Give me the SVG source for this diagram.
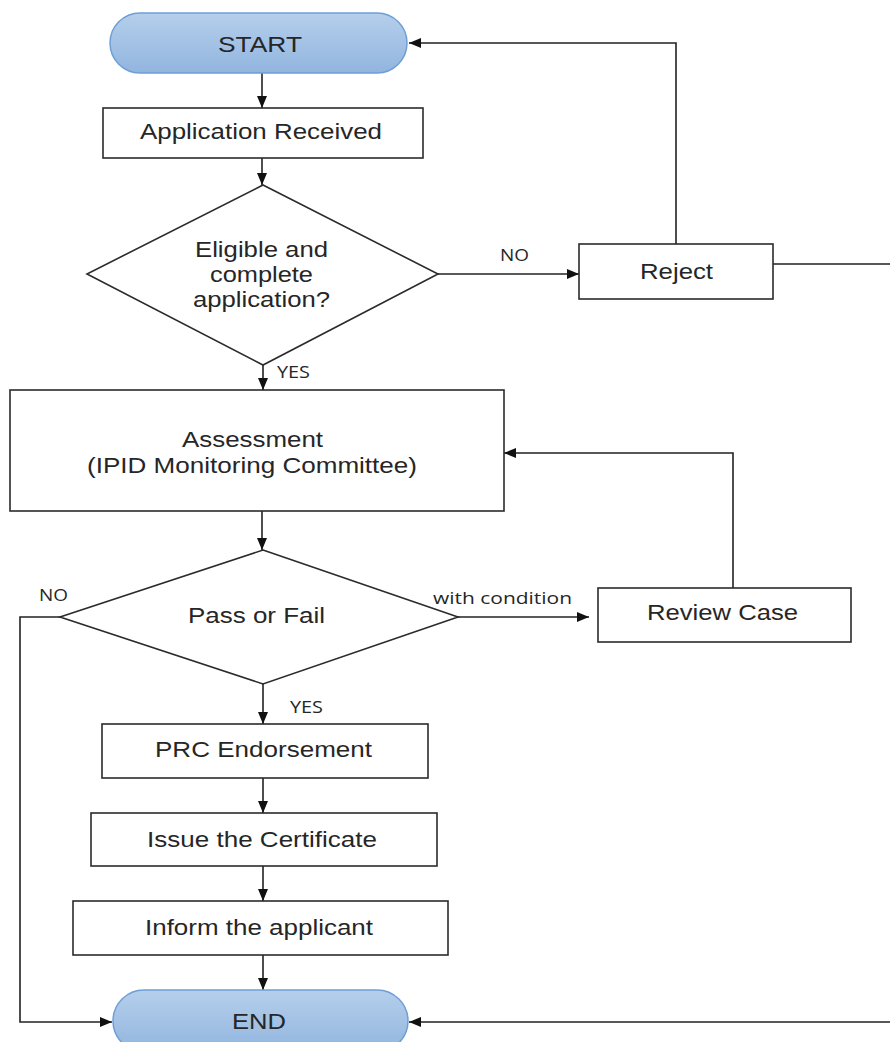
<svg xmlns="http://www.w3.org/2000/svg" width="890" height="1042" viewBox="0 0 890 1042">
<defs>
  <linearGradient id="pillGrad" x1="0" y1="0" x2="0" y2="1">
    <stop offset="0" stop-color="#b5cfec"/>
    <stop offset="1" stop-color="#92b5de"/>
  </linearGradient>
  <marker id="arrow" markerUnits="userSpaceOnUse" markerWidth="12" markerHeight="12" viewBox="0 0 12 12" refX="12" refY="6" orient="auto">
    <path d="M0,1 L12,6 L0,11 Z" fill="#111"/>
  </marker>
  <style>
    .box { fill: #ffffff; stroke: #2b2b2b; stroke-width: 1.6; }
    .pill { fill: url(#pillGrad); stroke: #6d9fd6; stroke-width: 1.5; }
    .conn { fill: none; stroke: #222; stroke-width: 1.6; }
    .arr { marker-end: url(#arrow); }
    .t { font-family: "Liberation Sans", Arial, sans-serif; font-size: 22px; fill: #262626; text-anchor: middle; }
    .lbl { font-family: "Open Sans", "Liberation Sans", sans-serif; font-size: 16px; fill: #262626; text-anchor: middle; }
  </style>
</defs>
<rect width="890" height="1042" fill="#ffffff"/>

<g id="connectors">
  <path class="conn arr" d="M262,73 V108"/>
  <path class="conn arr" d="M262,158 V185"/>
  <path class="conn arr" d="M438,274 H579"/>
  <path class="conn arr" d="M676,244 V43 H409"/>
  <path class="conn arr" d="M773,264 H893 V1022 H409"/>
  <path class="conn arr" d="M263,365 V390"/>
  <path class="conn arr" d="M262,511 V550"/>
  <path class="conn arr" d="M458,617 H589"/>
  <path class="conn arr" d="M733,588 V453 H504"/>
  <path class="conn arr" d="M60,617 H20 V1022 H112"/>
  <path class="conn arr" d="M263,684 V724"/>
  <path class="conn arr" d="M263,778 V813"/>
  <path class="conn arr" d="M263,866 V901"/>
  <path class="conn arr" d="M263,955 V990"/>
  <text class="lbl" x="514.5" y="261" textLength="29" lengthAdjust="spacingAndGlyphs">NO</text>
  <text class="lbl" x="293.5" y="378" textLength="33" lengthAdjust="spacingAndGlyphs">YES</text>
  <text class="lbl" x="53.5" y="601" textLength="29" lengthAdjust="spacingAndGlyphs">NO</text>
  <text class="lbl" x="502.5" y="604" textLength="139" lengthAdjust="spacingAndGlyphs">with condition</text>
  <text class="lbl" x="306.5" y="713" textLength="33" lengthAdjust="spacingAndGlyphs">YES</text>
</g>

<g id="start">
  <rect class="pill" x="110" y="13" width="297" height="60" rx="30" ry="30"/>
  <text class="t" x="260" y="52" textLength="84" lengthAdjust="spacingAndGlyphs">START</text>
</g>

<g id="application-received">
  <rect class="box" x="103" y="108" width="320" height="50"/>
  <text class="t" x="261" y="139" textLength="242" lengthAdjust="spacingAndGlyphs">Application Received</text>
</g>

<g id="eligible">
  <polygon class="box" points="263,185 438,274 263,365 87,274"/>
  <text class="t" x="261.5" y="257" textLength="133" lengthAdjust="spacingAndGlyphs">Eligible and</text>
  <text class="t" x="261.5" y="282" textLength="103" lengthAdjust="spacingAndGlyphs">complete</text>
  <text class="t" x="261.5" y="307" textLength="137" lengthAdjust="spacingAndGlyphs">application?</text>
</g>

<g id="reject">
  <rect class="box" x="579" y="244" width="194" height="55"/>
  <text class="t" x="676.5" y="279" textLength="73" lengthAdjust="spacingAndGlyphs">Reject</text>
</g>

<g id="assessment">
  <rect class="box" x="10" y="390" width="494" height="121"/>
  <text class="t" x="252.5" y="447" textLength="141" lengthAdjust="spacingAndGlyphs">Assessment</text>
  <text class="t" x="252" y="473" textLength="330" lengthAdjust="spacingAndGlyphs">(IPID Monitoring Committee)</text>
</g>

<g id="pass-or-fail">
  <polygon class="box" points="263,550 458,617 263,684 60,617"/>
  <text class="t" x="256.5" y="623" textLength="137" lengthAdjust="spacingAndGlyphs">Pass or Fail</text>
</g>

<g id="review-case">
  <rect class="box" x="598" y="588" width="253" height="54"/>
  <text class="t" x="722.5" y="620" textLength="151" lengthAdjust="spacingAndGlyphs">Review Case</text>
</g>

<g id="prc-endorsement">
  <rect class="box" x="102" y="724" width="326" height="54"/>
  <text class="t" x="263.5" y="757" textLength="217" lengthAdjust="spacingAndGlyphs">PRC Endorsement</text>
</g>

<g id="issue-certificate">
  <rect class="box" x="91" y="813" width="346" height="53"/>
  <text class="t" x="262" y="847" textLength="230" lengthAdjust="spacingAndGlyphs">Issue the Certificate</text>
</g>

<g id="inform-applicant">
  <rect class="box" x="73" y="901" width="375" height="54"/>
  <text class="t" x="259" y="935" textLength="228" lengthAdjust="spacingAndGlyphs">Inform the applicant</text>
</g>

<g id="end">
  <rect class="pill" x="113" y="990" width="295" height="62" rx="31" ry="31"/>
  <text class="t" x="259" y="1029" textLength="54" lengthAdjust="spacingAndGlyphs">END</text>
</g>
</svg>
